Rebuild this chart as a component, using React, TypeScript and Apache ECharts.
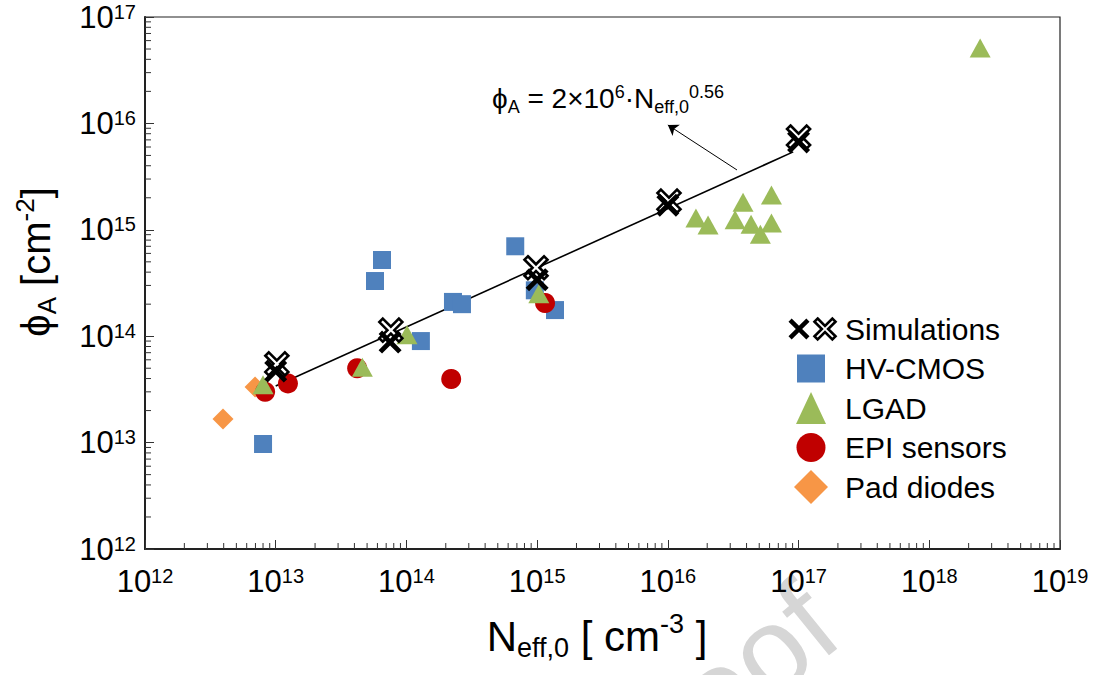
import React, { useEffect, useRef } from 'react';
import * as echarts from 'echarts';

// ---- Data ----
const simFilled: [number, number][] = [
  [1.0e13, 4.7e13], [7.5e13, 8.8e13], [1.0e15, 3.4e14], [1.0e16, 1.7e15], [1.0e17, 6.7e15],
];
const simOpen: [number, number][] = [
  [1.02e13, 5.5e13], [7.6e13, 1.14e14], [9.8e14, 4.4e14], [1.02e16, 1.86e15], [1.0e17, 7.45e15],
];
const hvcmos: [number, number][] = [
  [6.5e13, 5.2e14], [5.75e13, 3.3e14], [2.27e14, 2.1e14], [2.66e14, 2.0e14], [1.29e14, 9.0e13],
  [6.8e14, 7.0e14], [9.6e14, 2.7e14], [1.37e15, 1.76e14], [8.0e12, 9.7e12],
];
const lgad: [number, number][] = [
  [8.0e12, 3.5e13], [4.6e13, 5.1e13], [1.01e14, 1.03e14], [1.03e15, 2.5e14],
  [1.64e16, 1.29e15], [2.03e16, 1.11e15], [3.76e16, 1.82e15], [3.27e16, 1.24e15],
  [4.33e16, 1.13e15], [6.2e16, 2.12e15], [6.2e16, 1.16e15], [5.1e16, 9.1e14], [2.45e18, 5.1e16],
];
const epi: [number, number][] = [
  [8.3e12, 3.0e13], [1.24e13, 3.6e13], [4.2e13, 5.0e13], [2.2e14, 3.96e13], [1.15e15, 2.05e14],
];
const padDiodes: [number, number][] = [[3.95e12, 1.67e13], [6.95e12, 3.33e13]];
const fitLine: [number, number][] = [[1.0e13, 3.4e13], [9.1e16, 5.4e15]];
const arrowFrom: [number, number] = [3.38e16, 3.65e15];
const arrowTo: [number, number] = [1.0e16, 9.66e15];

const xRange: [number, number] = [1e12, 1e19];
const yRange: [number, number] = [1e12, 1e17];
const minorMultipliers = [2, 3, 4, 5, 6, 7, 8, 9];
const xDecades = [12, 13, 14, 15, 16, 17, 18];
const yDecades = [12, 13, 14, 15, 16];
const xMinorTicks = xDecades.flatMap((k) => minorMultipliers.map((m) => m * Math.pow(10, k)));
const yMinorTicks = yDecades.flatMap((k) => minorMultipliers.map((m) => m * Math.pow(10, k)));

const FONT = '"Liberation Sans", Arial, sans-serif';
const X_D = 'M3 0L10 7L17 0L20 3L13 10L20 17L17 20L10 13L3 20L0 17L7 10L0 3Z';
const X_PATH = 'path://' + X_D;

const COLORS = { hv: '#4F81BD', lgad: '#9BBB59', epi: '#C00000', pad: '#F79646' };

const svgIcon = (inner: string) =>
  'image://data:image/svg+xml;charset=utf-8,' +
  encodeURIComponent(
    "<svg xmlns='http://www.w3.org/2000/svg' width='68' height='34' viewBox='0 0 68 34'>" + inner + '</svg>'
  );
const SIM_ICON = svgIcon(
  `<path d='${X_D}' transform='translate(16.5,6.5) scale(1.05)' fill='#000'/>` +
    `<path d='${X_D}' transform='translate(42.5,6.5) scale(1.05)' fill='#fff' stroke='#000' stroke-width='2.5'/>`
);
const HV_ICON = svgIcon(`<rect x='25' y='3' width='28' height='28' fill='${COLORS.hv}'/>`);
const LGAD_ICON = svgIcon(`<polygon points='39,1 54,33 24,33' fill='${COLORS.lgad}'/>`);
const EPI_ICON = svgIcon(`<circle cx='39' cy='17' r='14.5' fill='${COLORS.epi}'/>`);
const PAD_ICON = svgIcon(`<polygon points='39,0 56,17 39,34 22,17' fill='${COLORS.pad}'/>`);

const tickLabel = (v: number) => `{b|10}{s|${Math.round(Math.log10(v))}}`;
const tickRich = {
  b: { fontSize: 31, fontFamily: FONT, color: '#000', lineHeight: 31, verticalAlign: 'bottom' },
  s: { fontSize: 20, fontFamily: FONT, color: '#000', lineHeight: 20, verticalAlign: 'top' },
};

const minorTickSeries = (data: [number, number][], horizontal: boolean) => ({
  type: 'custom',
  silent: true,
  clip: false,
  z: 1,
  data,
  renderItem: (_p: any, api: any) => {
    const p = api.coord([api.value(0), api.value(1)]);
    return {
      type: 'line',
      shape: horizontal
        ? { x1: p[0], y1: p[1], x2: p[0], y2: p[1] - 6 }
        : { x1: p[0], y1: p[1], x2: p[0] + 6, y2: p[1] },
      style: { stroke: '#333', lineWidth: 1 },
    };
  },
});

const titleRich = (main: number, small: number) => ({
  m: { fontSize: main, fontFamily: FONT, color: '#000', lineHeight: main, verticalAlign: 'bottom', padding: [0, 0, 4, 0] },
  sub: { fontSize: small, fontFamily: FONT, color: '#000', lineHeight: small, verticalAlign: 'bottom' },
  sup: { fontSize: small, fontFamily: FONT, color: '#000', lineHeight: small, verticalAlign: 'bottom', padding: [0, 0, main * 0.55, 0] },
});

export default function App() {
  const ref = useRef<HTMLDivElement>(null);
  useEffect(() => {
    if (!ref.current) return;
    const chart = echarts.init(ref.current, undefined, { renderer: 'svg' });
    chart.setOption({
      animation: false,
      backgroundColor: '#fff',
      grid: { left: 145, right: 55, top: 17, bottom: 126, show: true, borderColor: '#222', borderWidth: 1.2, backgroundColor: 'transparent' },
      xAxis: {
        type: 'log', logBase: 10, min: xRange[0], max: xRange[1],
        axisLine: { lineStyle: { color: '#222', width: 2 } },
        axisTick: { inside: true, length: 9, lineStyle: { color: '#333', width: 1 } },
        axisLabel: { margin: 17, formatter: tickLabel, rich: tickRich },
        splitLine: { show: false },
      },
      yAxis: {
        type: 'log', logBase: 10, min: yRange[0], max: yRange[1],
        axisLine: { lineStyle: { color: '#222', width: 2 } },
        axisTick: { inside: true, length: 9, lineStyle: { color: '#333', width: 1 } },
        axisLabel: { margin: 9, formatter: tickLabel, rich: tickRich },
        splitLine: { show: false },
      },
      legend: {
        orient: 'vertical', left: 767, top: 307,
        itemWidth: 68, itemHeight: 34, itemGap: 5.5,
        textStyle: { fontSize: 30, fontFamily: FONT, color: '#000' },
        data: [
          { name: 'Simulations', icon: SIM_ICON },
          { name: 'HV-CMOS', icon: HV_ICON },
          { name: 'LGAD', icon: LGAD_ICON },
          { name: 'EPI sensors', icon: EPI_ICON },
          { name: 'Pad diodes', icon: PAD_ICON },
        ],
      },
      graphic: [
        {
          type: 'text', z: -1, x: 858, y: 655, rotation: (39 * Math.PI) / 180,
          style: { text: 'Proof', fontSize: 120, fontFamily: FONT, fill: '#d6d6d6', align: 'right', verticalAlign: 'bottom' },
        },
        {
          type: 'text', x: 597, y: 640,
          style: { text: '{m|N}{sub|eff,0}{m| [ cm}{sup|-3}{m| ]}', align: 'center', verticalAlign: 'middle', rich: titleRich(42, 27) },
        },
        {
          type: 'text', x: 40, y: 262, rotation: Math.PI / 2,
          style: { text: '{m|ϕ}{sub|A}{m| [cm}{sup|-2}{m|]}', align: 'center', verticalAlign: 'middle', rich: titleRich(40, 26) },
        },
        {
          type: 'text', x: 492, y: 102,
          style: { text: '{m|ϕ}{sub|A}{m| = 2×10}{sup|6}{m|·N}{sub|eff,0}{sup|0.56}', align: 'left', verticalAlign: 'middle', rich: titleRich(28, 18) },
        },
      ],
      series: [
        minorTickSeries(xMinorTicks.map((v) => [v, yRange[0]] as [number, number]), true),
        minorTickSeries(yMinorTicks.map((v) => [xRange[0], v] as [number, number]), false),
        {
          name: 'fit', type: 'line', data: fitLine, symbol: 'none', z: 3, silent: true,
          lineStyle: { color: '#000', width: 1.6 },
          markLine: {
            silent: true, symbol: ['none', 'arrow'], symbolSize: 10,
            label: { show: false },
            lineStyle: { color: '#000', width: 1, type: 'solid' },
            data: [[{ coord: arrowFrom }, { coord: arrowTo }]],
          },
        },
        { name: 'Pad diodes', type: 'scatter', data: padDiodes, symbol: 'diamond', symbolSize: 21, z: 4, itemStyle: { color: COLORS.pad, opacity: 1 } },
        { name: 'HV-CMOS', type: 'scatter', data: hvcmos, symbol: 'rect', symbolSize: 18, z: 5, itemStyle: { color: COLORS.hv, opacity: 1 } },
        { name: 'EPI sensors', type: 'scatter', data: epi, symbol: 'circle', symbolSize: 20, z: 6, itemStyle: { color: COLORS.epi, opacity: 1 } },
        { name: 'LGAD', type: 'scatter', data: lgad, symbol: 'triangle', symbolSize: [21, 19], z: 7, itemStyle: { color: COLORS.lgad, opacity: 1 } },
        { name: 'Simulations', type: 'scatter', data: simOpen, symbol: X_PATH, symbolSize: 23, z: 8, itemStyle: { color: '#fff', borderColor: '#000', borderWidth: 2.6, opacity: 1 } },
        { name: 'Simulations', type: 'scatter', data: simFilled, symbol: X_PATH, symbolSize: 23, z: 9, itemStyle: { color: '#000', opacity: 1 } },
      ],
    });
    return () => chart.dispose();
  }, []);
  return <div ref={ref} style={{ position: 'fixed', left: 0, top: 0, width: 1115, height: 675 }} />;
}
